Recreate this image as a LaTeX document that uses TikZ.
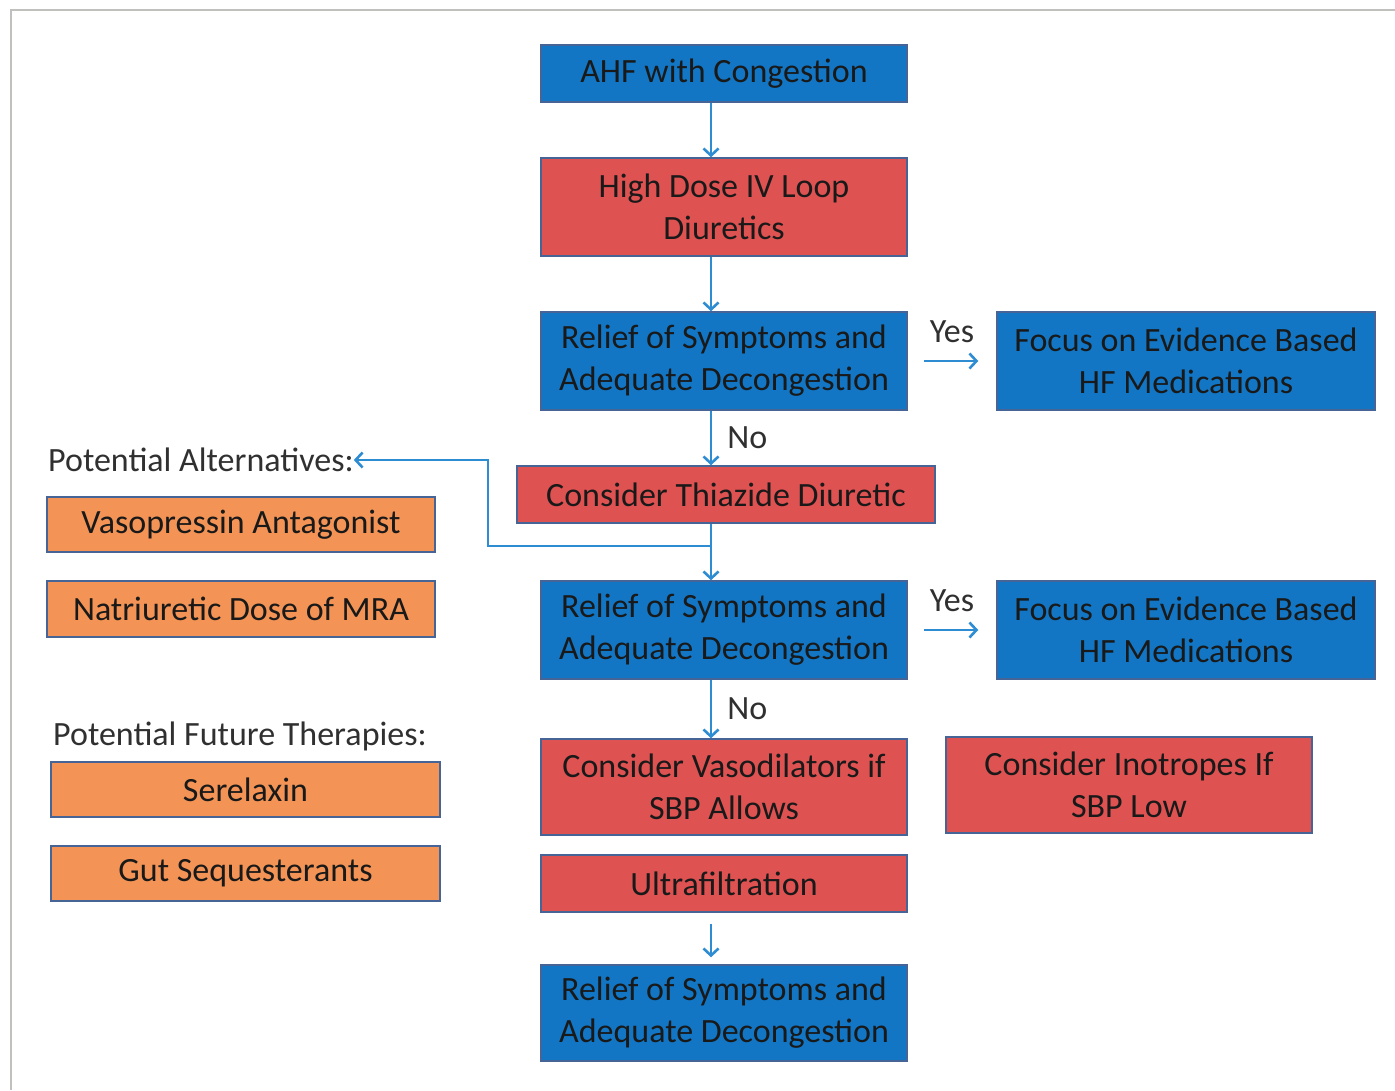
\documentclass[tikz,border=0pt]{standalone}
\usepackage{fontspec}
\setmainfont{Carlito}
\usepackage{tikz}
\usepackage{xcolor}
\usetikzlibrary{positioning,arrows.meta}

\definecolor{boxblue}{RGB}{18,118,196}
\definecolor{boxred}{RGB}{222,82,82}
\definecolor{boxorange}{RGB}{243,148,86}
\definecolor{boxedge}{RGB}{70,100,150}
\definecolor{arrowblue}{RGB}{45,140,210}
\definecolor{ink}{RGB}{25,25,25}
\definecolor{framegray}{RGB}{192,192,188}

\begin{document}
\begin{tikzpicture}[
  x=1pt, y=-1pt,
  node distance=54.5pt and 88.5pt,
  every node/.style={font=\fontsize{34}{42}\selectfont, text=ink},
  box/.style={draw=boxedge, line width=1.5pt, minimum width=366pt,
              minimum height=57pt, inner sep=0pt, align=center},
  bluebox/.style={box, fill=boxblue},
  redbox/.style={box, fill=boxred},
  orangebox/.style={box, fill=boxorange, minimum width=388pt, minimum height=55pt},
  lbl/.style={inner sep=0pt, text=ink!90},
  arr/.style={-{Straight Barb[length=7pt,width=15pt]}, line width=2.6pt, draw=arrowblue}
]
\useasboundingbox (0,0) rectangle (1395,1090);
\draw[framegray, line width=2pt] (10.5,1090) -- (10.5,9.5) -- (1395,9.5);

% main column
\node[bluebox] (ahf) at (724,73.5) {AHF with Congestion};
\node[redbox, minimum height=98pt, below=of ahf] (loop) {High Dose IV Loop\\Diuretics};
\node[bluebox, minimum height=98pt, below=of loop] (rel1) {Relief of Symptoms and\\Adequate Decongestion};
\node[redbox, minimum width=418pt, below=of rel1, xshift=2pt] (thia) {Consider Thiazide Diuretic};
\node[bluebox, minimum height=98pt, below=56.5pt of thia, xshift=-2pt] (rel2) {Relief of Symptoms and\\Adequate Decongestion};
\node[redbox, minimum height=96pt, below=58.5pt of rel2] (vaso) {Consider Vasodilators if\\SBP Allows};
\node[redbox, below=18.5pt of vaso] (ultra) {Ultrafiltration};
\node[bluebox, minimum height=96pt, below=51.5pt of ultra] (rel3) {Relief of Symptoms and\\Adequate Decongestion};

% right column
\node[bluebox, minimum width=378pt, minimum height=98pt, right=of rel1] (focus1) {Focus on Evidence Based\\HF Medications};
\node[bluebox, minimum width=378pt, minimum height=98pt, right=of rel2] (focus2) {Focus on Evidence Based\\HF Medications};
\node[redbox, minimum height=96pt, right=37.5pt of vaso, yshift=2pt] (ino) {Consider Inotropes If\\SBP Low};

% left column
\node[lbl, anchor=west] (alt) at (48,460) {Potential Alternatives:};
\node[orangebox] (vasop) at (241,524.5) {Vasopressin Antagonist};
\node[orangebox, minimum height=56pt] (mra) at (241,609) {Natriuretic Dose of MRA};
\node[lbl, anchor=west] (fut) at (53,736) {Potential Future Therapies:};
\node[orangebox, minimum width=389pt] (serel) at (245.5,789.5) {Serelaxin};
\node[orangebox, minimum width=389pt] (gut) at (245.5,873.5) {Gut Sequesterants};

\coordinate (spine) at (711,0);
\coordinate (split) at (711,546);
\coordinate (jog) at (488,460);

\draw[arr] (ahf.south -| spine) -- (loop.north -| spine);
\draw[arr] (loop.south -| spine) -- (rel1.north -| spine);
\draw[arr] (rel1.south -| spine) -- node[lbl, right=15pt] {No} (thia.north -| spine);
\draw[arr] (thia.south -| spine) -- (rel2.north -| spine);
\draw[arr] (rel2.south -| spine) -- node[lbl, right=15pt] {No} (vaso.north -| spine);
\draw[arr, shorten <=11pt, shorten >=7pt] (ultra.south -| spine) -- (rel3.north -| spine);

\draw[arr] (split) -| (jog) -- (alt.east);

\draw[arr, shorten <=16pt, shorten >=18pt] (rel1) -- node[lbl, above=17pt] {Yes} (focus1);
\draw[arr, shorten <=16pt, shorten >=18pt] (rel2) -- node[lbl, above=17pt] {Yes} (focus2);
\end{tikzpicture}
\end{document}
